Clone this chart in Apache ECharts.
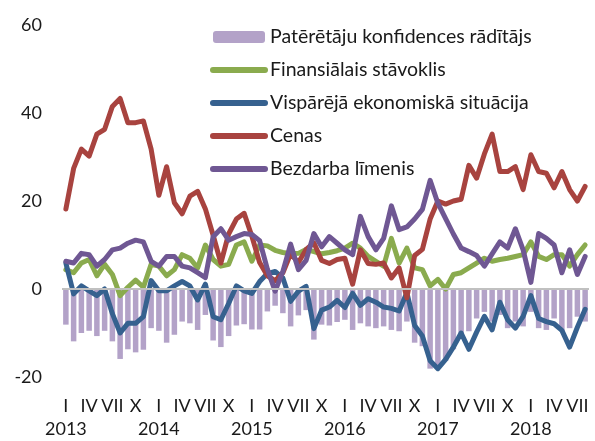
<!DOCTYPE html>
<html>
<head>
<meta charset="utf-8">
<script src="https://cdn.jsdelivr.net/npm/echarts@6/dist/echarts.min.js"></script>
<style>
  html, body { margin: 0; padding: 0; background: #fff; }
  #chart { width: 595px; height: 441px; }
</style>
</head>
<body>
<div id="chart"></div>
<script>
// monthly, Jan 2013 .. Aug 2018
const years = [2013, 2014, 2015, 2016, 2017, 2018];
const monthLabels = ['I', '', '', 'IV', '', '', 'VII', '', '', 'X', '', ''];
const seriesNames = ['Patērētāju konfidences rādītājs', 'Finansiālais stāvoklis', 'Vispārējā ekonomiskā situācija', 'Cenas', 'Bezdarba līmenis'];

const confidence = [
  -8.1, -11.9, -10, -9.5, -10.7, -9.5, -11.9, -15.9, -13.7, -14.4, -13.8, -8.9,
  -9.5, -12.2, -10.4, -7.4, -7.8, -9.3, -5.9, -11.7, -13.2, -10.7, -8.3, -8,
  -9.2, -9.2, -5.1, -3.8, -5.5, -8.5, -6, -4.8, -11.5, -8.1, -8.3, -7.5,
  -7, -9.3, -7.8, -8.5, -8.9, -8.5, -9.3, -9.6, -7.4, -12.2, -13, -18.1,
  -18.1, -16.3, -13.7, -10, -9.6, -6.7, -5.2, -7.4, -5.9, -8.9, -7.4, -8.5,
  -5.2, -8.9, -9.3, -6.7, -9.6, -8.9, -6.3, -7.4
];
const financial = [
  4.4, 3.7, 5.9, 6.7, 3, 5.6, 3.3, -1.5, 0.4, 2, 0.4, 5.6,
  5.2, 3, 4.4, 7.8, 7, 4.8, 10, 6.7, 5.2, 5.6, 10, 10.7,
  6.3, 10, 9.8, 8.8, 8.3, 8, 8.1, 9, 8.5, 8, 8.3, 8.7,
  9.3, 10.4, 9.3, 7.4, 6.3, 5.2, 11.5, 5.9, 9.3, 4.8, 4.4, 0.7,
  2.2, 0, 3.3, 3.7, 4.8, 5.9, 7, 6.3, 6.7, 7, 7.4, 7.8,
  10.7, 7.4, 6.7, 7.8, 7.8, 5.2, 7.8, 10
];
const economy = [
  5.9, -1.1, 0.7, -0.4, -1.5, 0, -5.6, -10, -7.8, -7.8, -6.3, 1.9,
  -0.4, -0.4, 0.7, 1.7, 0.7, -2.5, 1.1, -6.3, -7, -3.3, 0.7, -0.4,
  -1, 1.7, 3.5, 4, 2.5, -2.8, -0.5, 0.6, -9, -4.8, -4.1, -2.6,
  -4.2, -1, -3.7, -2.2, -3, -4.1, -4.4, -5, -0.8, -8.3, -10.7, -16.3,
  -18.1, -16, -13.2, -10, -13.7, -9.8, -6.2, -9.3, -3, -7, -8.9, -6.2,
  -1.5, -6.7, -7.4, -7.9, -9.4, -13.2, -8.7, -4.6
];
const prices = [
  18.2, 27.4, 31.8, 30.2, 35.2, 36.3, 41.5, 43.3, 37.8, 37.8, 38.2, 31.8,
  21.3, 27.8, 19.6, 17.1, 21.1, 22.2, 18.2, 12.2, 5.9, 12.5, 15.9, 17.2,
  12, 6, 3, 1.9, 3.7, 8, 6, 9, 10.5, 6.5, 5.8, 6.7,
  7, 1.1, 8.9, 5.8, 5.6, 5.9, 2.5, 4.8, -2, 7.6, 9, 15.9,
  20, 19.3, 20, 20.4, 28.1, 25.2, 30.7, 35.2, 26.7, 26.7, 27.8, 22.6,
  30.5, 26.7, 26.3, 23, 26.7, 22.6, 20, 23.3
];
const unemployment = [
  6.3, 5.9, 8.1, 7.8, 5.2, 6.7, 8.9, 9.3, 10.4, 11.1, 10.7, 6.3,
  5.2, 7.4, 7.4, 5.2, 4.8, 3.7, 2.6, 11.9, 13.7, 11.1, 11.9, 12.6,
  12.4, 11, 4.5, -0.5, 4, 10.2, 4.4, 6.5, 12.6, 9.6, 11.9, 10.4,
  8.9, 7.8, 16.5, 11.9, 8.9, 11.5, 18.9, 13.5, 14.1, 15.9, 18.1, 24.7,
  19.5, 16, 12.5, 9.3, 8.5, 7.6, 5.2, 8, 10.7, 9.3, 13.7, 8.9,
  1.5, 12.6, 11.5, 10, 3.7, 8.9, 3.3, 7.4
];

const categories = [];
for (let i = 0; i < confidence.length; i++) {
  const m = i % 12;
  const y = years[Math.floor(i / 12)];
  categories.push(m === 0 ? monthLabels[m] + '\n' + y : monthLabels[m]);
}

const font = 'Lato, "Open Sans", sans-serif';
const colors = ['#b3a2c8', '#8aab4e', '#36618f', '#a8433f', '#6f5793'];

const lineSeries = (name, data, color) => ({
  name: name,
  type: 'line',
  data: data,
  symbol: 'none',
  color: color,
  lineStyle: { width: 5, color: color, cap: 'round', join: 'round' },
  animation: false
});

// line legend entries: thick rounded line, no marker
const legendData = seriesNames.map((name, i) => i === 0 ? { name: name } : {
  name: name,
  itemStyle: { opacity: 0 },
  lineStyle: { width: 6, cap: 'round' }
});

const chart = echarts.init(document.getElementById('chart'));
chart.setOption({
  animation: false,
  textStyle: { fontFamily: font },
  grid: { left: 62, right: 6, top: 25, bottom: 56 },
  legend: {
    orient: 'vertical',
    left: 205,
    top: 22,
    itemWidth: 52,
    itemHeight: 12,
    itemGap: 13,
    textStyle: { fontSize: 19.5, color: '#1a1a1a', fontFamily: font },
    data: legendData
  },
  xAxis: {
    type: 'category',
    data: categories,
    axisLine: { show: false },
    axisTick: { show: false },
    axisLabel: {
      interval: 0,
      margin: 18,
      fontSize: 18,
      lineHeight: 23,
      color: '#1a1a1a',
      fontFamily: font
    }
  },
  yAxis: {
    type: 'value',
    min: -20,
    max: 60,
    interval: 20,
    axisLine: { show: false },
    axisTick: { show: false },
    splitLine: { show: false },
    axisLabel: { fontSize: 18, color: '#1a1a1a', margin: 20, fontFamily: font }
  },
  series: [
    {
      name: seriesNames[0],
      type: 'bar',
      data: confidence,
      barWidth: 5.5,
      color: colors[0],
      itemStyle: { color: colors[0] },
      markLine: {
        silent: true,
        symbol: 'none',
        label: { show: false },
        lineStyle: { color: '#c0c0c0', width: 2, type: 'solid' },
        data: [{ yAxis: 0 }]
      }
    },
    lineSeries(seriesNames[1], financial, colors[1]),
    lineSeries(seriesNames[2], economy, colors[2]),
    lineSeries(seriesNames[3], prices, colors[3]),
    lineSeries(seriesNames[4], unemployment, colors[4])
  ]
});
</script>
</body>
</html>
